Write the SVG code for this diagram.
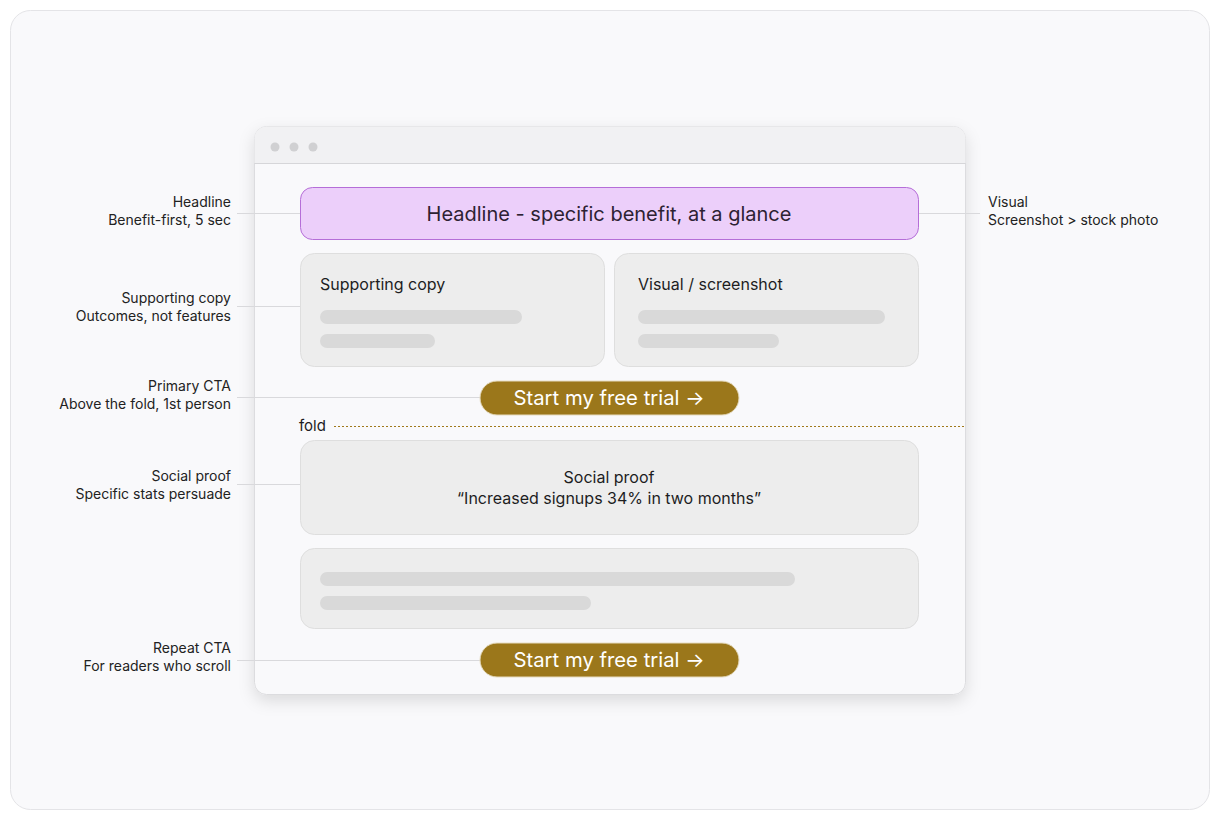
<svg xmlns="http://www.w3.org/2000/svg" width="1220" height="820" viewBox="0 0 1220 820">
<style>
text{font-family:Inter,"Liberation Sans",sans-serif;}
.ann{font-size:14px;fill:#222;text-anchor:end;}
.annr{font-size:14px;fill:#222;}
.lead{stroke:#d9d9dc;stroke-width:1;fill:none;}
.card{fill:#ededed;stroke:#dedede;stroke-width:1;}
.bar{fill:#d9d9d9;}
.cta{fill:#9b771b;stroke:#e6dcc0;stroke-width:1;}
.ctat{font-size:20.3px;fill:#ffffff;text-anchor:middle;}
.ct{font-size:16px;fill:#1d1d1f;}
</style>
<defs>
<filter id="sh" x="-10%" y="-10%" width="120%" height="125%">
<feDropShadow dx="0" dy="6" stdDeviation="8" flood-color="#000" flood-opacity="0.12"/>
</filter>
</defs>
<rect x="0" y="0" width="1220" height="820" fill="#ffffff"/>
<rect x="10.5" y="10.5" width="1199" height="799" rx="20" fill="#f9f9fb" stroke="#e4e4e7"/>
<g id="browser">
<rect x="254.5" y="126.5" width="711" height="568" rx="12" fill="#f9f9fb" stroke="#dcdcdf" filter="url(#sh)"/>
<path d="M254.5 163 V138.5 a12 12 0 0 1 12 -12 H953.5 a12 12 0 0 1 12 12 V163 Z" fill="#f1f1f3"/>
<line x1="254.5" y1="163.5" x2="965.5" y2="163.5" stroke="#d6d6d9"/>
<circle cx="275" cy="147" r="4.5" fill="#d0d0d2"/>
<circle cx="294" cy="147" r="4.5" fill="#d0d0d2"/>
<circle cx="313" cy="147" r="4.5" fill="#d0d0d2"/>
</g>
<g id="connectors">
<line class="lead" x1="237" y1="213.5" x2="300" y2="213.5"/>
<line class="lead" x1="918" y1="213.5" x2="980" y2="213.5"/>
<line class="lead" x1="237" y1="306.5" x2="300" y2="306.5"/>
<line class="lead" x1="237" y1="397.5" x2="480" y2="397.5"/>
<line class="lead" x1="237" y1="484.5" x2="300" y2="484.5"/>
<line class="lead" x1="237" y1="660.5" x2="480" y2="660.5"/>
<line x1="334" y1="426.5" x2="965" y2="426.5" stroke="#a0791b" stroke-width="1" stroke-dasharray="2 2"/>
</g>
<g id="headline">
<rect x="300.5" y="187.5" width="618" height="52" rx="12" fill="#eccffa" stroke="#b56ed8"/>
<text x="609" y="221" font-size="20" fill="#2d2233" text-anchor="middle">Headline - specific benefit, at a glance</text>
</g>
<g id="supporting">
<rect class="card" x="300.5" y="253.5" width="304" height="113" rx="14"/>
<text class="ct" x="320" y="290">Supporting copy</text>
<rect class="bar" x="320" y="310" width="202" height="14" rx="7"/>
<rect class="bar" x="320" y="334" width="115" height="14" rx="7"/>
</g>
<g id="visual">
<rect class="card" x="614.5" y="253.5" width="304" height="113" rx="14"/>
<text class="ct" x="638" y="290">Visual / screenshot</text>
<rect class="bar" x="638" y="310" width="247" height="14" rx="7"/>
<rect class="bar" x="638" y="334" width="141" height="14" rx="7"/>
</g>
<g id="cta1">
<rect class="cta" x="480" y="381" width="259" height="34" rx="17"/>
<text class="ctat" x="609" y="405">Start my free trial →</text>
</g>
<g id="fold">
<text x="299" y="431" font-size="15" fill="#1d1d1f">fold</text>
</g>
<g id="socialproof">
<rect class="card" x="300.5" y="440.5" width="618" height="94" rx="14"/>
<text class="ct" x="609" y="483" text-anchor="middle">Social proof</text>
<text class="ct" x="609" y="504" text-anchor="middle">“Increased signups 34% in two months”</text>
</g>
<g id="blank">
<rect class="card" x="300.5" y="548.5" width="618" height="80" rx="14"/>
<rect class="bar" x="320" y="572" width="475" height="14" rx="7"/>
<rect class="bar" x="320" y="596" width="271" height="14" rx="7"/>
</g>
<g id="cta2">
<rect class="cta" x="480" y="643" width="259" height="34" rx="17"/>
<text class="ctat" x="609" y="667">Start my free trial →</text>
</g>
<g id="annotations">
<text class="ann" x="231" y="207">Headline</text>
<text class="ann" x="231" y="225">Benefit-first, 5 sec</text>
<text class="ann" x="231" y="303">Supporting copy</text>
<text class="ann" x="231" y="321">Outcomes, not features</text>
<text class="ann" x="231" y="391">Primary CTA</text>
<text class="ann" x="231" y="409">Above the fold, 1st person</text>
<text class="ann" x="231" y="481">Social proof</text>
<text class="ann" x="231" y="499">Specific stats persuade</text>
<text class="ann" x="231" y="653">Repeat CTA</text>
<text class="ann" x="231" y="671">For readers who scroll</text>
<text class="annr" x="988" y="207">Visual</text>
<text class="annr" x="988" y="225">Screenshot &gt; stock photo</text>
</g>
</svg>
